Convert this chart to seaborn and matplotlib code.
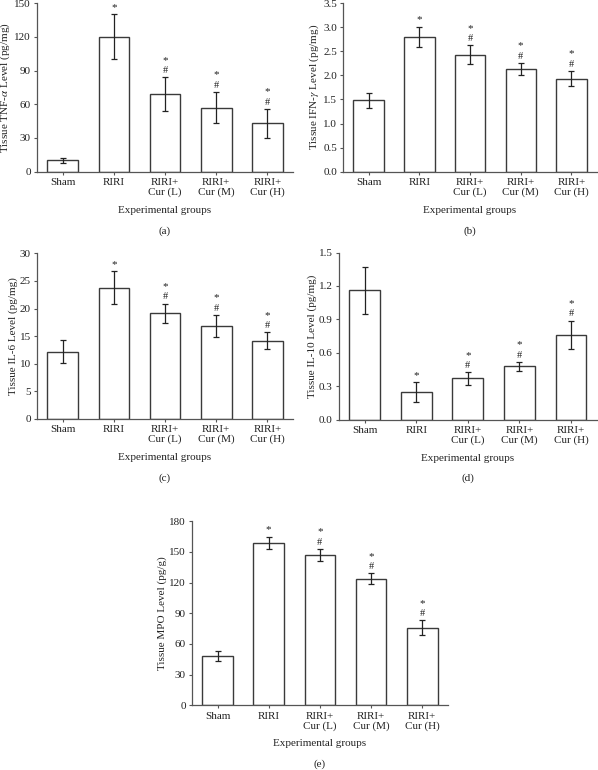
#importing libraries
import pandas as pd
import matplotlib.pyplot as plt
import seaborn as sns

# group names and tick labels
groups = ["Sham", "RIRI", "RIRI+\nCur (L)", "RIRI+\nCur (M)", "RIRI+\nCur (H)"]

# mean and SEM for every panel
tnf_mean = [10, 120, 69, 57, 43]
tnf_sem = [2, 20, 15, 14, 13]
ifn_mean = [1.48, 2.80, 2.43, 2.13, 1.93]
ifn_sem = [0.15, 0.21, 0.19, 0.13, 0.16]
il6_mean = [12.2, 23.8, 19.1, 16.9, 14.2]
il6_sem = [2.1, 3.0, 1.8, 2.0, 1.5]
il10_mean = [1.16, 0.25, 0.37, 0.48, 0.76]
il10_sem = [0.21, 0.09, 0.055, 0.04, 0.13]
mpo_mean = [48, 159, 147, 124, 76]
mpo_sem = [4.7, 6, 6, 5.2, 7]

# significance marks above each bar (* vs sham, # vs RIRI)
star = [False, True, True, True, True]
hash_ = [False, False, True, True, True]

sns.set_theme(style="ticks")
plt.rcParams['font.family'] = ['Liberation Serif', 'DejaVu Serif']
plt.rcParams['mathtext.fontset'] = 'stix'

EDGE = "#3a3a3a"
AXC = "#555555"
TXT = "#222222"

fig = plt.figure(figsize=(5.98, 7.70), dpi=100)


def panel(rect, mean, sem, ylabel, yticks, letter):
    ax = fig.add_axes(rect)
    df = pd.DataFrame({"group": groups, "value": mean})
    sns.barplot(data=df, x="group", y="value", color="white", edgecolor=EDGE,
                linewidth=1.0, width=0.6, errorbar=None, ax=ax)
    ax.errorbar(range(len(groups)), mean, yerr=sem, fmt="none", ecolor=TXT,
                elinewidth=0.9, capsize=2.2, capthick=0.9)
    for i, (m, s) in enumerate(zip(mean, sem)):
        off = 1.5
        if hash_[i]:
            ax.annotate("#", (i, m + s), xytext=(0, off), textcoords="offset points",
                        ha="center", va="bottom", fontsize=7.5, color=TXT)
            off += 7.5
        if star[i]:
            ax.annotate("*", (i, m + s), xytext=(0, off), textcoords="offset points",
                        ha="center", va="bottom", fontsize=8, color=TXT)
    ax.set_xlim(-0.5, 4.5)
    ax.set_ylim(yticks[0], yticks[-1])
    ax.set_yticks(yticks)
    ax.set_ylabel(ylabel, fontsize=8, labelpad=1.5, color=TXT)
    ax.set_xlabel("Experimental groups", fontsize=8, labelpad=6, color=TXT)
    ax.annotate(letter, (0.5, 0), xycoords="axes fraction", xytext=(0, -42.5),
                textcoords="offset points", ha="center", va="center",
                fontsize=8, color=TXT)
    ax.tick_params(axis="both", labelsize=8, length=2.5, width=0.8,
                   color=AXC, labelcolor=TXT, pad=2)
    for t in ax.get_xticklabels():
        t.set_linespacing(1.1)
    sns.despine(ax=ax)
    for sp in ["left", "bottom"]:
        ax.spines[sp].set_color(AXC)
        ax.spines[sp].set_linewidth(0.9)
    return ax


panel([0.062, 0.777, 0.428, 0.219], tnf_mean, tnf_sem,
      r"Tissue TNF-$\alpha$ Level (pg/mg)", [0, 30, 60, 90, 120, 150], "(a)")
panel([0.574, 0.777, 0.424, 0.219], ifn_mean, ifn_sem,
      r"Tissue IFN-$\gamma$ Level (pg/mg)", [0.0, 0.5, 1.0, 1.5, 2.0, 2.5, 3.0, 3.5], "(b)")
ax_c = panel([0.062, 0.456, 0.428, 0.215], il6_mean, il6_sem,
             "Tissue IL-6 Level (pg/mg)", [0, 5, 10, 15, 20, 25, 30], "(c)")
ax_d = panel([0.567, 0.455, 0.431, 0.217], il10_mean, il10_sem,
             "Tissue IL-10 Level (pg/mg)", [0.0, 0.3, 0.6, 0.9, 1.2, 1.5], "(d)")
ax_d.yaxis.set_major_formatter(plt.FormatStrFormatter("%.1f"))
ax_e = panel([0.321, 0.084, 0.428, 0.239], mpo_mean, mpo_sem,
             "Tissue MPO Level (pg/g)", [0, 30, 60, 90, 120, 150, 180], "(e)")

fig.savefig("out.png", dpi=100)
